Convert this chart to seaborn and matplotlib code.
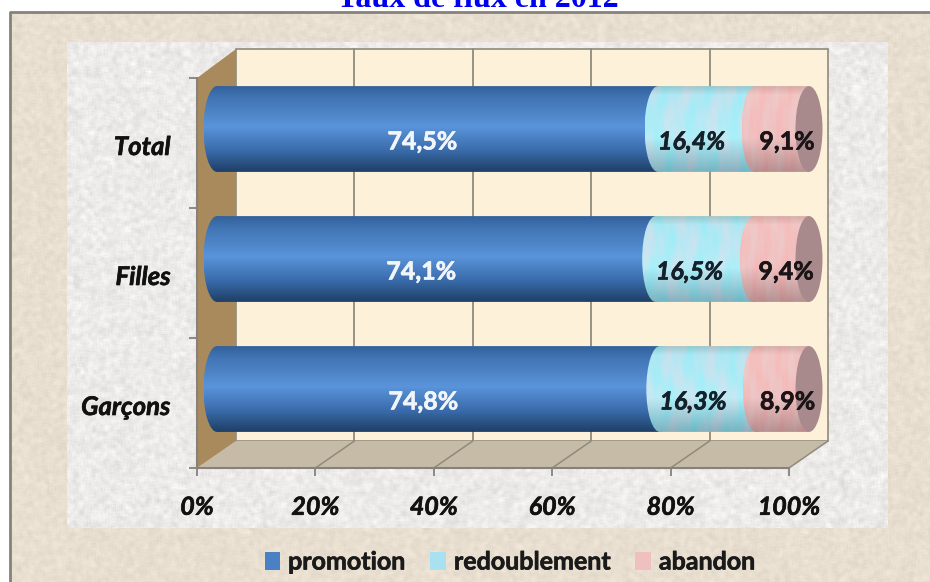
import numpy as np
import seaborn as sns
import matplotlib.pyplot as plt
import matplotlib.patheffects as pe
from matplotlib.patches import Ellipse, Patch, PathPatch, Polygon
from matplotlib.path import Path
from matplotlib.transforms import Affine2D, ScaledTranslation
from matplotlib.colors import to_rgb

# Valeurs
categories = ["Total", "Filles", "Garçons"]
promotion = [74.5, 74.1, 74.8]
redoublement = [16.4, 16.5, 16.3]
abandon = [9.1, 9.4, 8.9]
series_names = ["promotion", "redoublement", "abandon"]
tick_values = [0, 20, 40, 60, 80, 100]
tick_labels = ["0%", "20%", "40%", "60%", "80%", "100%"]

W, H = 930, 582
sns.set_style("white")
plt.rcParams["font.family"] = ["Lato", "DejaVu Sans"]

fig = plt.figure(figsize=(W / 100, H / 100), dpi=100, facecolor="white")


def box(x0, y0, x1, y1):
    return [x0 / W, 1 - y1 / H, (x1 - x0) / W, (y1 - y0) / H]


def mottle(h, w, cx=12.9898, cy=78.233):
    # texture sans hasard : hachage par sinus puis flou
    yy, xx = np.mgrid[0:h, 0:w]
    n = np.sin(xx * cx + yy * cy) * 43758.5453
    n = n - np.floor(n)
    out = np.zeros_like(n)
    for dx in range(-2, 3):
        for dy in range(-2, 3):
            out += np.roll(np.roll(n, dx, axis=1), dy, axis=0)
    out = out / 25
    return (out - out.mean()) / out.std()


def shade(stops, n=100):
    pos = [s[0] for s in stops]
    cols = np.array([to_rgb(s[1]) for s in stops])
    t = np.linspace(0, 1, n)
    return np.stack([np.interp(t, pos, cols[:, i]) for i in range(3)], axis=1)


def heavy(color, width=0.45):
    # le texte de référence est plus gras que Lato Bold
    return [pe.withStroke(linewidth=width, foreground=color)]


# Fonds
bg = fig.add_axes([0, 0, 1, 1])
bg.axis("off")
outer = np.array(to_rgb("#e9dfd0")) + mottle(H - 12, W - 10)[..., None] * 0.012
bg.imshow(np.clip(outer, 0, 1), extent=[10, W, H, 12], aspect="auto", zorder=1)
bg.plot([10, 10, W], [H, 12, 12], color="#85827c", lw=2, zorder=2)
inner = np.array(to_rgb("#ecebe9")) + mottle(486, 820, 9.17, 51.3)[..., None] * 0.018
bg.imshow(np.clip(inner, 0, 1), extent=[67, 887, 528, 42], aspect="auto", zorder=2)
bg.set_xlim(0, W)
bg.set_ylim(H, 0)

# Axes du plan avant (graduations) et axes des barres (décalés en profondeur)
ax = fig.add_axes(box(197, 78, 789, 468))
ax.patch.set_alpha(0)
ax_bar = fig.add_axes(box(217, 64, 809, 454))
ax_bar.patch.set_alpha(0)

dx, top_dy, bot_dy = 39 / 592, 29 / 390, 27 / 390
wall = Polygon([(dx, bot_dy), (1 + dx, bot_dy), (1 + dx, 1 + top_dy), (dx, 1 + top_dy)],
               transform=ax.transAxes, fc="#fdf1da", ec="#8f8a7c", lw=1.2, clip_on=False, zorder=1)
floor = Polygon([(0, 0), (1, 0), (1 + dx, bot_dy), (dx, bot_dy)],
                transform=ax.transAxes, fc="#c6bba7", ec="none", clip_on=False, zorder=1.5)
side = Polygon([(0, 0), (dx, bot_dy), (dx, 1 + top_dy), (0, 1)],
               transform=ax.transAxes, fc="#a98a5c", ec="none", clip_on=False, zorder=2)
ax.add_patch(wall)
ax.add_patch(floor)
ax.add_patch(side)
for v in tick_values[1:-1]:
    f = v / 100
    ax.plot([f + dx, f + dx], [bot_dy, 1 + top_dy], transform=ax.transAxes, color="#8f8a7c",
            lw=1.3, clip_on=False, zorder=1.2)
    ax.plot([f, f + dx], [0, bot_dy], transform=ax.transAxes, color="#8f8a7c",
            lw=1.1, clip_on=False, zorder=1.6)
ax.plot([1, 1 + dx], [0, bot_dy], transform=ax.transAxes, color="#8f8a7c", lw=1.1, clip_on=False, zorder=1.6)

ax.set_xlim(0, 100)
ax.set_ylim(2.5, -0.5)
ax.set_xticks(tick_values)
ax.set_xticklabels(tick_labels, fontsize=18, fontstyle="italic", fontweight="bold", color="#111111",
                   path_effects=heavy("#111111"))
ax.set_yticks([-0.5, 0.5, 1.5, 2.5])
ax.set_yticklabels([])
ax.set_yticks([0, 1, 2], minor=True)
ax.set_yticklabels(categories, minor=True, fontsize=18.5, fontstyle="italic", fontweight="bold", color="#111111",
                   path_effects=heavy("#111111"))
ax.tick_params(axis="x", length=6, width=1.3, color="#85827c", pad=14, bottom=True)
ax.tick_params(axis="y", which="major", length=6, width=1.3, color="#85827c", left=True)
ax.tick_params(axis="y", which="minor", length=0, pad=19)
for lab in ax.get_yticklabels(minor=True):
    lab.set_verticalalignment("center")
    lab.set_transform(lab.get_transform() + ScaledTranslation(0, -4 / 100, fig.dpi_scale_trans))
for name, spine in ax.spines.items():
    spine.set_visible(name in ("left", "bottom"))
    spine.set_color("#85827c")
    spine.set_linewidth(1.5)
    spine.set_zorder(3)

# Barres empilées
values = [promotion, redoublement, abandon]
lefts = [[0, 0, 0], promotion, list(np.add(promotion, redoublement))]
base_colors = ["#4a80c4", "#a8e2f0", "#f0c0c0"]
profiles = [
    [(0, "#33619c"), (0.12, "#4073b2"), (0.47, "#5a94da"), (0.75, "#3a6cab"), (1, "#1f3f66")],
    [(0, "#9cc8ce"), (0.1, "#b4e6f2"), (0.6, "#b8ecf6"), (1, "#80b2c0")],
    [(0, "#d8aca8"), (0.1, "#f2c4c2"), (0.6, "#f0c0c0"), (1, "#b88f90")],
]
cap_half = 13.5 / 5.92

for k in range(3):
    sns.barplot(x=values[k], y=categories, color=base_colors[k], left=lefts[k], orient="h",
                width=0.66, saturation=1, ax=ax_bar, zorder=3 + k)

for k, container in enumerate(ax_bar.containers):
    for bar in container:
        x0, y0, w, h = bar.get_x(), bar.get_y(), bar.get_width(), bar.get_height()
        rect = Path([(x0, y0), (x0 + w, y0), (x0 + w, y0 + h), (x0, y0 + h), (x0, y0)])
        circle = Path.unit_circle().transformed(
            Affine2D().scale(cap_half, h / 2).translate(x0, y0 + h / 2))
        clip = PathPatch(Path.make_compound_path(rect, circle), transform=ax_bar.transData)
        col = shade(profiles[k], 100)
        if k == 0:
            img = col[:, None, :]
        else:
            # reflets de la texture, en bandes ondulées
            yy, xx = np.mgrid[0:100, 0:160]
            wave = (np.sin(xx * 0.11 + x0 + 1.6 * np.sin(yy * 0.07 + y0 * 4))
                    + 0.5 * np.sin(xx * 0.29 + yy * 0.05 + y0)
                    + 0.3 * np.sin(xx * 0.53 - yy * 0.11))
            amp = np.array([-0.05, 0.012, 0.01]) if k == 1 else np.array([0.01, -0.018, -0.018])
            img = np.clip(col[yy] + wave[..., None] * amp, 0, 1)
        im = ax_bar.imshow(img, extent=[x0 - cap_half, x0 + w, y0 + h, y0], aspect="auto",
                           zorder=3 + k, interpolation="bilinear")
        im.set_clip_path(clip)
        im.set_clip_box(fig.bbox)
        bar.set_visible(False)
        if k == 2:
            cap = Ellipse((x0 + w, y0 + h / 2), 2 * cap_half, h, transform=ax_bar.transData,
                          fc="#a98a8c", ec="none", zorder=6, clip_on=False)
            ax_bar.add_patch(cap)

ax_bar.set_xlim(0, 100)
ax_bar.set_ylim(2.5, -0.5)
ax_bar.axis("off")

# Étiquettes de valeurs
label_style = [
    dict(color="#f2f6fa", fontstyle="normal", shift=-15),
    dict(color="#14202a", fontstyle="italic", shift=-15),
    dict(color="#1a1416", fontstyle="normal", shift=5),
]
for k in range(3):
    st = label_style[k]
    for i, cat in enumerate(categories):
        centre = lefts[k][i] + values[k][i] / 2
        txt = f"{values[k][i]:.1f}%".replace(".", ",")
        ax_bar.annotate(txt, (centre, i), xytext=(st["shift"] * 0.72, -13 * 0.72),
                        textcoords="offset points", ha="center", va="center", fontsize=18,
                        fontweight="bold", fontstyle=st["fontstyle"], color=st["color"], zorder=8,
                        annotation_clip=False, path_effects=heavy(st["color"]))

# Légende
handles = [Patch(facecolor=c, edgecolor="none", label=n) for c, n in zip(base_colors, series_names)]
leg = fig.legend(handles=handles, loc="center", bbox_to_anchor=(510 / W, 1 - 562 / H), ncol=3, frameon=False,
                 prop={"size": 18, "weight": "bold"}, handlelength=0.62, handleheight=0.7, handletextpad=0.32,
                 columnspacing=1.0, labelcolor="#1a1a1a")
for t in leg.get_texts():
    t.set_path_effects(heavy("#1a1a1a"))

# Titre coupé par le haut de l'image
fig.text(478 / W, 1 - 7 / H, "Taux de flux en 2012", ha="center", va="baseline", color="#0000f0",
         fontsize=23, fontweight="bold", family="Liberation Serif")

fig.savefig("out.png", dpi=100)
